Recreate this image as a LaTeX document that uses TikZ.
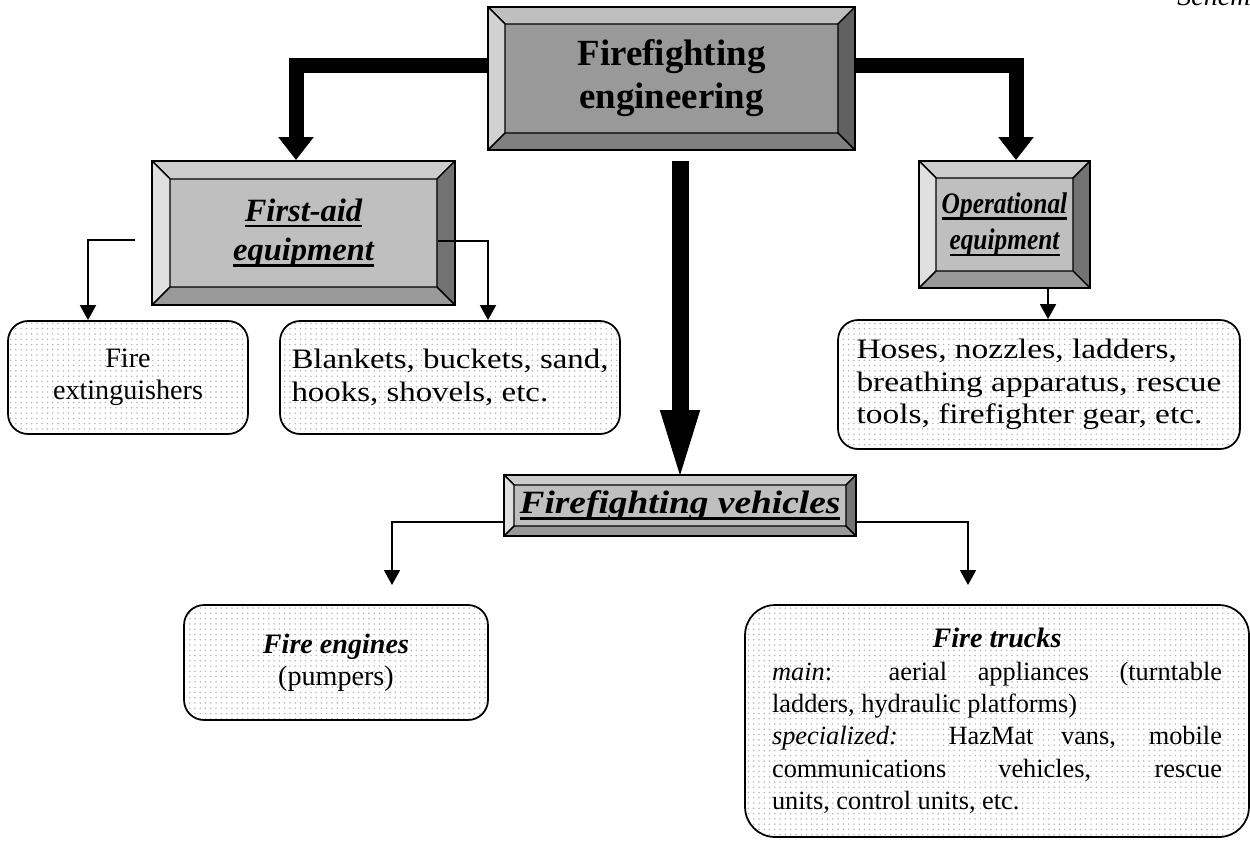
\documentclass[tikz,border=0pt]{standalone}
\usepackage{fontspec}
\usepackage{graphicx}
\setmainfont{Liberation Serif}
\usetikzlibrary{arrows.meta,patterns}

\newcommand{\bodyfont}{\fontsize{16}{18.4}\selectfont}
\newcommand{\headfont}{\fontsize{21}{24.5}\selectfont\bfseries}
\newcommand{\subfont}{\fontsize{18.5}{22.5}\selectfont\bfseries\itshape}
\newcommand{\ulined}[1]{\setbox0=\hbox{#1}\rlap{\rule[-3.5pt]{\wd0}{1.3pt}}\box0}
\newcommand{\stretchx}[2]{\scalebox{#1}[1]{#2}}

\tikzset{
  bevel depth/.store in=\bvdepth,
  bevel top/.store in=\bvtop,
  bevel left/.store in=\bvleft,
  bevel right/.store in=\bvright,
  bevel bottom/.store in=\bvbottom,
  bevel depth=0.34cm, bevel top=black!20, bevel left=black!12,
  bevel right=black!55, bevel bottom=black!40,
  bevel/.style={draw, line width=1.1pt, inner sep=0pt, align=center,
    path picture={
      \path (path picture bounding box.north west) coordinate (bnw)
            (path picture bounding box.north east) coordinate (bne)
            (path picture bounding box.south west) coordinate (bsw)
            (path picture bounding box.south east) coordinate (bse);
      \filldraw[line width=0.8pt, fill=\bvtop] (bnw) -- (bne)
        -- ([shift={(-\bvdepth,-\bvdepth)}]bne) -- ([shift={(\bvdepth,-\bvdepth)}]bnw) -- cycle;
      \filldraw[line width=0.8pt, fill=\bvleft] (bnw) -- ([shift={(\bvdepth,-\bvdepth)}]bnw)
        -- ([shift={(\bvdepth,\bvdepth)}]bsw) -- (bsw) -- cycle;
      \filldraw[line width=0.8pt, fill=\bvright] (bne) -- ([shift={(-\bvdepth,-\bvdepth)}]bne)
        -- ([shift={(-\bvdepth,\bvdepth)}]bse) -- (bse) -- cycle;
      \filldraw[line width=0.8pt, fill=\bvbottom] (bsw) -- ([shift={(\bvdepth,\bvdepth)}]bsw)
        -- ([shift={(-\bvdepth,\bvdepth)}]bse) -- (bse) -- cycle;
    }},
  mainbox/.style={bevel, fill=black!40, bevel top=black!25, bevel left=black!18,
    bevel right=black!62, bevel bottom=black!50, font=\headfont},
  groupbox/.style={bevel, fill=black!25, font=\subfont},
  itembox/.style={draw, line width=1pt, rounded corners=0.4cm, pattern=dots,
    pattern color=black!28, font=\bodyfont, align=center, inner sep=0pt},
  link/.style={line width=0.9pt, -{Triangle[width=0.32cm,length=0.3cm]}},
  flow/.style={line width=0.3cm, -{Triangle[width=0.68cm,length=0.46cm]}}
}

\begin{document}
\begin{tikzpicture}[x=0.02cm, y=-0.02cm]
  \useasboundingbox (0,0) rectangle (1250,840);

  \node[font=\bodyfont\itshape, anchor=base west, inner sep=0pt] (tag) at (1177,5) {Schem};

  % bevelled boxes
  \node[mainbox, minimum width=7.34cm, minimum height=2.86cm] (eng) at (671.5,78.5)
    {Firefighting\\engineering};
  \node[groupbox, minimum width=6.06cm, minimum height=2.88cm, bevel depth=0.36cm] (aid)
    at (303.5,233) {\ulined{First-aid}\\\ulined{equipment}};
  \node[groupbox, minimum width=3.42cm, minimum height=2.54cm,
    font=\fontsize{17}{20.6}\selectfont\bfseries\itshape] (ops) at (1004.5,224.5)
    {\stretchx{0.85}{\ulined{Operational}}\\\stretchx{0.85}{\ulined{equipment}}};
  \node[groupbox, minimum width=7.04cm, minimum height=1.22cm, bevel depth=0.2cm] (veh)
    at (680,505.5) {\stretchx{1.15}{\ulined{Firefighting vehicles}}};

  % dotted boxes
  \node[itembox, minimum width=4.8cm, minimum height=2.26cm] (ext) at (128,377.5)
    {Fire\\extinguishers};
  \node[itembox, minimum width=6.8cm, minimum height=2.26cm, align=left] (tools) at (450,377.5)
    {\stretchx{1.17}{Blankets, buckets, sand,}\\\stretchx{1.17}{hooks, shovels, etc.}};
  \node[itembox, minimum width=8.04cm, minimum height=2.58cm, align=left] (gear) at (1039,384.5)
    {\stretchx{1.19}{Hoses, nozzles, ladders,}\\\stretchx{1.19}{breathing apparatus, rescue}\\
     \stretchx{1.19}{tools, firefighter gear, etc.}};
  \node[itembox, minimum width=6.08cm, minimum height=2.3cm] (pump) at (336,662.5)
    {\textbf{\textit{Fire engines}}\\(pumpers)};
  \node[itembox, minimum width=10.08cm, minimum height=4.64cm, rounded corners=0.6cm,
    text width=9cm, align=justify, font=\fontsize{15}{18.4}\selectfont] (truck) at (997,721)
    {\hfill{\bodyfont\textbf{\textit{Fire trucks}}}\hfill\null\\
     \textit{main}: aerial appliances (turntable\linebreak ladders, hydraulic platforms)\\
     \textit{specialized:} HazMat vans, mobile\linebreak communications vehicles,
     rescue\linebreak units, control units, etc.};

  % thick arrows
  \coordinate (lbend) at (296,65);
  \coordinate (rbend) at (1016,65);
  \coordinate (drop) at ([yshift=-0.2cm]eng.south);
  \coordinate (land) at ([yshift=-0.22cm]veh.north);
  \draw[flow] (lbend -| eng.west) -- (lbend) -- (lbend |- aid.north);
  \draw[flow] (rbend -| eng.east) -- (rbend) -- (rbend |- ops.north);
  \draw[line width=0.34cm, -{Triangle[width=0.68cm,length=1.5cm]}] (veh.north |- drop) -- (land);

  % thin arrows
  \coordinate (aidl) at (135,240);
  \coordinate (aidlb) at (88,240);
  \coordinate (aidr) at (438,241);
  \coordinate (aidrb) at (488,241);
  \coordinate (opsb) at (1048,0);
  \coordinate (vehl) at (392,522);
  \coordinate (vehr) at (968,522);
  \draw[link] (aidl) -- (aidlb) -- (aidlb |- ext.north);
  \draw[link] (aidr) -- (aidrb) -- (aidrb |- tools.north);
  \draw[link] (opsb |- ops.south) -- (opsb |- gear.north);
  \draw[link] (vehl -| veh.west) -- (vehl) -- ++(0,63);
  \draw[link] (vehr -| veh.east) -- (vehr) -- ++(0,63);
\end{tikzpicture}
\end{document}
